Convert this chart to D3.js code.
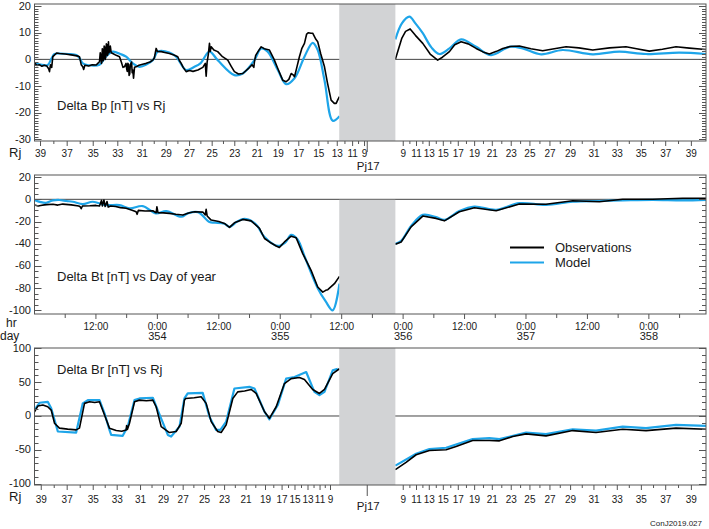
<!DOCTYPE html>
<html><head><meta charset="utf-8">
<script src="https://cdn.jsdelivr.net/npm/d3@7"></script>
<style>
html,body{margin:0;padding:0;background:#fff;}
svg{display:block;}
text{font-family:"Liberation Sans",Arial,Helvetica,sans-serif;fill:#1a1a1a;}
.nar{font-family:"Liberation Sans Narrow","Arial Narrow","Liberation Sans",sans-serif;}
</style></head><body>
<svg id="c" width="709" height="529"></svg>
<script>
// ---------------- DATA ----------------
const timeDomain = [353.0, 358.465];          // day of year (2018)
const gapStart = 355.48, gapEnd = 355.937;    // data gap around perijove
const pj17Time = 355.708;

const rjInLabels = [39,37,35,33,31,29,27,25,23,21,19,17,15,13,11,9];
const rjTopInTimes = [353.049,353.266,353.478,353.678,353.877,354.072,354.262,354.446,354.630,354.813,354.984,355.151,355.314,355.464,355.589,355.686];
const rjBotInTimes = [353.055,353.266,353.478,353.673,353.863,354.050,354.210,354.384,354.547,354.722,354.880,355.015,355.120,355.226,355.324,355.409];
const rjOutLabels = [9,11,13,15,17,19,21,23,25,27,29,31,33,35,37,39];
const rjOutTimes = [356.001,356.109,356.213,356.327,356.449,356.582,356.726,356.880,357.032,357.195,357.363,357.553,357.743,357.939,358.137,358.346];

const dayLabels = [354,355,356,357,358];
const hrLabels = ["0:00","12:00"];

const bpTicks = [20,10,0,-10,-20,-30];
const btTicks = [20,0,-20,-40,-60,-80,-100];
const brTicks = [100,50,0,-50,-100];

// Delta Bp observations
const bpObsT = [353.000,353.020,353.040,353.060,353.080,353.100,353.115,353.122,353.130,353.140,353.149,353.160,353.180,353.203,353.250,353.312,353.355,353.366,353.380,353.393,353.400,353.410,353.440,353.470,353.502,353.515,353.529,353.535,353.540,353.545,353.548,353.552,353.556,353.560,353.563,353.567,353.572,353.576,353.580,353.585,353.590,353.594,353.597,353.602,353.606,353.610,353.617,353.624,353.637,353.665,353.692,353.710,353.720,353.732,353.745,353.750,353.755,353.760,353.765,353.770,353.775,353.780,353.790,353.795,353.800,353.806,353.814,353.827,353.850,353.880,353.909,353.940,353.963,353.975,353.990,354.000,354.031,354.060,354.098,354.140,354.166,354.180,354.194,354.210,354.234,354.261,354.290,354.330,354.370,354.390,354.397,354.405,354.415,354.424,354.430,354.438,354.460,354.491,354.530,354.573,354.600,354.627,354.660,354.695,354.740,354.770,354.785,354.790,354.800,354.820,354.845,354.870,354.912,354.950,354.980,355.020,355.048,355.070,355.089,355.105,355.116,355.135,355.156,355.175,355.197,355.215,355.229,355.250,355.264,355.290,355.305,355.330,355.360,355.385,355.414,355.440,355.455,355.470,355.482,
  null,
  355.937,355.960,355.990,356.020,356.057,356.100,356.160,356.220,356.281,356.320,356.377,356.420,356.472,356.530,356.594,356.650,356.702,356.760,356.811,356.870,356.946,357.040,357.136,357.230,357.326,357.430,357.543,357.680,357.814,357.900,358.004,358.110,358.221,358.330,358.438,358.465];
const bpObsV = [-1.3,-2.3,-2.0,-2.6,-2.2,-2.5,-3.5,-4.6,-2.0,-3.0,1.0,1.5,2.4,2.2,2.0,1.6,1.2,1.0,-2.0,-2.8,-3.8,-2.2,-2.5,-2.0,-2.1,-1.5,-0.9,2.5,1.5,-1.5,-1.0,4.0,3.5,-0.5,0.5,5.0,4.5,0.0,1.0,5.8,5.5,1.5,2.0,6.6,2.5,3.0,5.0,2.5,2.2,1.5,1.0,-1.5,-3.0,-2.8,-1.5,-3.5,-4.5,-1.5,-2.0,-6.0,-5.5,-2.0,-1.0,-5.0,-4.0,-7.1,-3.0,-2.8,-2.2,-1.8,-1.5,-1.0,-0.3,0.5,4.1,3.0,2.9,2.6,2.2,1.5,1.0,-0.5,-1.5,-3.0,-4.6,-4.2,-4.5,-4.0,-3.0,-1.5,-6.3,-1.0,2.0,6.0,3.0,4.7,3.5,2.9,1.0,-0.3,-2.5,-4.6,-5.5,-5.3,-3.5,-2.0,-3.0,-0.9,1.5,3.0,4.7,4.0,3.5,0.0,-3.4,-7.8,-8.4,-7.5,-5.3,-5.8,-6.5,-3.0,1.0,4.0,6.0,9.5,10.0,9.8,9.8,7.5,6.6,2.0,-2.8,-9.0,-15.3,-16.5,-16.5,-15.0,-14.0,
  null,
  0.0,3.5,8.0,10.5,11.4,9.0,6.0,2.0,-0.3,0.8,2.9,5.5,6.6,5.8,4.1,2.8,2.0,3.0,4.1,4.8,5.0,4.0,3.2,4.0,4.7,4.3,3.5,4.3,4.7,4.0,3.1,3.8,4.7,4.2,3.8,3.7];

// Delta Bp model
const bpModT = [353.000,353.050,353.108,353.140,353.163,353.203,353.280,353.340,353.366,353.393,353.440,353.529,353.580,353.637,353.700,353.746,353.800,353.854,353.963,354.003,354.098,354.153,354.234,354.302,354.350,354.424,354.491,354.627,354.695,354.790,354.845,354.898,354.980,355.048,355.116,355.197,355.264,355.305,355.360,355.427,355.482,
  null,
  355.937,355.990,356.051,356.100,356.160,356.230,356.295,356.377,356.472,356.594,356.716,356.865,356.973,357.123,357.299,357.543,357.760,357.977,358.248,358.465];
const bpModV = [-1.3,-2.0,-2.1,0.5,2.0,2.2,2.0,1.6,0.5,-1.5,-2.2,-2.0,1.0,2.9,2.0,1.0,-1.5,-2.8,-0.3,2.9,2.6,1.0,-4.0,-2.8,-1.5,2.9,-0.3,-5.9,-5.3,-0.3,4.1,2.9,-4.0,-9.3,-7.1,1.0,6.2,3.5,-7.8,-23.0,-21.3,
  null,
  7.5,13.5,16.0,13.5,9.8,4.5,2.0,4.1,7.5,4.7,1.6,4.7,4.1,1.9,3.5,1.9,2.9,2.0,2.5,2.0];

// Delta Bt observations
const btObsT = [353.000,353.030,353.050,353.080,353.100,353.150,353.190,353.230,353.300,353.360,353.372,353.380,353.390,353.450,353.500,353.529,353.545,353.552,353.565,353.575,353.590,353.600,353.620,353.660,353.700,353.746,353.800,353.827,353.835,353.845,353.900,353.963,353.990,353.996,354.005,354.050,354.098,354.150,354.207,354.261,354.302,354.370,354.390,354.397,354.405,354.438,354.500,354.546,354.587,354.627,354.695,354.763,354.831,354.872,354.912,354.967,354.993,355.034,355.089,355.130,355.183,355.251,355.305,355.346,355.370,355.387,355.441,355.482,
  null,
  355.937,355.984,356.065,356.160,356.268,356.336,356.458,356.580,356.757,356.946,357.163,357.380,357.597,357.787,358.031,358.275,358.465];
const btObsV = [-5.2,-6.0,-5.5,-5.0,-4.8,-4.5,-5.2,-4.3,-5.0,-6.0,-6.7,-8.5,-6.0,-5.8,-5.5,-6.0,-1.0,-6.0,-0.6,-6.5,-2.0,-7.0,-6.0,-6.5,-7.5,-8.1,-10.0,-11.2,-13.5,-10.0,-10.5,-10.3,-12.1,-6.7,-12.0,-12.2,-12.7,-13.5,-14.2,-12.1,-11.2,-11.5,-14.0,-9.0,-15.0,-18.7,-20.0,-21.7,-25.3,-21.2,-18.1,-19.4,-26.2,-35.3,-38.4,-42.0,-43.4,-38.4,-33.2,-34.7,-48.9,-64.0,-79.0,-83.6,-82.0,-81.4,-76.0,-69.4,
  null,
  -40.5,-38.4,-24.8,-15.1,-17.2,-19.4,-11.2,-7.6,-10.3,-4.3,-4.5,-1.3,-2.2,0.0,0.0,0.9,0.9];

// Delta Bt model
const btModT = [353.000,353.050,353.095,353.150,353.203,353.260,353.312,353.393,353.474,353.583,353.692,353.773,353.881,353.990,354.072,354.194,354.247,354.330,354.424,354.470,354.546,354.587,354.650,354.709,354.780,354.814,354.872,354.980,355.040,355.089,355.140,355.200,355.305,355.370,355.427,355.482,
  null,
  355.937,355.984,356.065,356.160,356.268,356.336,356.458,356.580,356.757,356.946,357.163,357.380,357.597,357.787,358.031,358.275,358.465];
const btModV = [-0.6,-2.5,-3.1,-1.0,-0.6,-1.5,-2.2,-4.3,-2.2,-5.2,-5.2,-8.1,-6.1,-12.7,-10.6,-15.7,-12.7,-11.5,-20.5,-21.0,-22.0,-24.8,-20.0,-17.7,-20.5,-24.0,-34.0,-42.0,-39.0,-32.0,-36.0,-52.0,-80.0,-92.0,-100.0,-76.0,
  null,
  -40.0,-37.5,-24.0,-14.0,-16.0,-18.5,-10.5,-6.5,-9.5,-3.5,-5.0,-2.2,-1.5,-1.0,-0.5,-1.0,-0.5];

// Delta Br observations
const brObsT = [353.000,353.027,353.068,353.108,353.136,353.163,353.203,353.270,353.339,353.366,353.407,353.448,353.490,353.529,353.570,353.610,353.665,353.710,353.746,353.750,353.756,353.773,353.814,353.854,353.910,353.963,353.990,354.031,354.098,354.153,354.194,354.220,354.230,354.300,354.356,354.397,354.438,354.491,354.519,354.560,354.614,354.654,354.710,354.763,354.804,354.872,354.912,354.967,355.034,355.089,355.156,355.197,355.264,355.319,355.360,355.427,355.482,
  null,
  355.937,356.024,356.106,356.214,356.350,356.431,356.566,356.702,356.784,356.892,357.001,357.163,357.380,357.570,357.787,357.977,358.221,358.465];
const brObsV = [6.3,14.7,16.2,13.7,8.8,-10.7,-18.0,-19.5,-20.6,-18.0,18.7,21.0,20.0,21.0,1.5,-18.0,-21.6,-22.5,-20.6,-14.0,-20.0,-10.7,21.0,23.5,22.5,23.5,13.7,-15.7,-24.5,-23.0,-10.7,23.5,26.0,27.0,28.4,18.7,-8.3,-23.0,-24.5,-13.2,26.0,35.7,37.0,39.3,33.4,6.3,-3.4,13.7,48.0,55.4,56.9,54.0,39.3,33.4,39.3,62.8,70.0,
  null,
  -79.4,-68.7,-57.4,-51.0,-50.0,-45.1,-36.3,-36.3,-36.8,-30.4,-26.5,-29.4,-21.6,-24.5,-19.6,-21.6,-18.0,-19.6];

// Delta Br model
const brModT = [353.000,353.041,353.108,353.136,353.190,353.339,353.393,353.434,353.529,353.570,353.610,353.624,353.718,353.759,353.814,353.854,353.963,354.003,354.085,354.112,354.180,354.220,354.247,354.369,354.424,354.478,354.513,354.560,354.627,354.749,354.790,354.872,354.912,354.980,355.048,355.116,355.211,355.278,355.319,355.360,355.427,355.468,
  null,
  355.937,356.106,356.214,356.350,356.566,356.702,356.784,357.001,357.163,357.380,357.570,357.787,357.977,358.221,358.465];
const brModV = [8.8,19.6,21.0,11.3,-23.0,-24.5,18.7,23.5,23.5,4.0,-20.6,-28.0,-29.4,-15.7,23.5,26.0,27.0,8.8,-28.0,-30.4,-15.7,26.0,33.4,34.3,-1.0,-20.6,-20.6,-8.3,40.7,43.1,40.7,6.3,-4.9,16.2,55.4,57.8,65.1,35.7,30.9,35.7,67.6,70.0,
  null,
  -73.5,-55.9,-49.0,-47.0,-34.3,-32.8,-34.3,-24.5,-26.9,-19.6,-21.6,-15.7,-18.0,-13.2,-14.7];

// ---------------- DRAWING ----------------
const svg = d3.select('#c');
const BLUE = '#1ea5e9', GRAY = '#d2d3d5', AX = '#555';
const x = d3.scaleLinear().domain(timeDomain).range([34.5, 706]);
const L = x.range()[0], R = x.range()[1];

const panels = [
  {key:'bp', top:4, bottom:141, dom:[-30.6,20.75], ticks:bpTicks, minor:1, major:10,
   obsT:bpObsT, obsV:bpObsV, modT:bpModT, modV:bpModV, label:'Delta Bp [nT] vs Rj', labY:110,
   grayFull:true, modCurve:d3.curveCatmullRom, obsCurve:d3.curveLinear},
  {key:'bt', top:175, bottom:314, dom:[-103.3,21.9], ticks:btTicks, minor:5, major:20,
   obsT:btObsT, obsV:btObsV, modT:btModT, modV:btModV, label:'Delta Bt [nT] vs Day of year', labY:281,
   grayFull:false, modCurve:d3.curveCatmullRom, obsCurve:d3.curveLinear},
  {key:'br', top:348, bottom:485, dom:[-102.2,100.7], ticks:brTicks, minor:10, major:50,
   obsT:brObsT, obsV:brObsV, modT:brModT, modV:brModV, label:'Delta Br [nT] vs Rj', labY:374,
   grayFull:true, modCurve:d3.curveLinear, obsCurve:d3.curveLinear}
];

panels.forEach((p,i) => {
  const y = d3.scaleLinear().domain(p.dom).range([p.bottom, p.top]);
  const g = svg.append('g');
  const cid = 'clip'+i;
  svg.append('clipPath').attr('id',cid).append('rect')
    .attr('x',L).attr('y',p.top).attr('width',R-L).attr('height',p.bottom-p.top);

  // zero line
  g.append('line').attr('x1',L).attr('x2',R).attr('y1',y(0)).attr('y2',y(0))
    .attr('stroke','#444').attr('stroke-width',1);

  const mk = (T,V) => T.map((t,k)=>({t, v:V[k]}));
  const lineGen = c => d3.line().defined(d=>d.t!=null && d.v!=null)
      .x(d=>x(d.t)).y(d=>y(d.v)).curve(c);

  const cg = g.append('g').attr('clip-path',`url(#${cid})`);
  cg.append('path').datum(mk(p.modT,p.modV)).attr('d',lineGen(p.modCurve))
    .attr('fill','none').attr('stroke',BLUE).attr('stroke-width',2.2).attr('stroke-linejoin','round');
  cg.append('path').datum(mk(p.obsT,p.obsV)).attr('d',lineGen(p.obsCurve))
    .attr('fill','none').attr('stroke','#000').attr('stroke-width',1.6).attr('stroke-linejoin','round');

  // gray data gap
  const gy = p.grayFull ? p.top : y(0);
  g.append('rect').attr('x',x(gapStart)).attr('y',gy+(p.grayFull?0:0.5))
    .attr('width',x(gapEnd)-x(gapStart)).attr('height',p.bottom-gy-(p.grayFull?0:0.5))
    .attr('fill',GRAY);

  // frame
  g.append('rect').attr('x',L).attr('y',p.top).attr('width',R-L).attr('height',p.bottom-p.top)
    .attr('fill','none').attr('stroke',AX).attr('stroke-width',1);

  // y ticks (inward both sides)
  const minors = d3.range(Math.ceil(p.dom[0]/p.minor)*p.minor, p.dom[1]+1e-9, p.minor);
  minors.forEach(v => {
    const isMaj = Math.abs(v % p.major) < 1e-9;
    const len = isMaj ? 7 : 4;
    const yy = Math.round(y(v))+0.5;
    g.append('line').attr('x1',L).attr('x2',L+len).attr('y1',yy).attr('y2',yy).attr('stroke',AX);
    g.append('line').attr('x1',R).attr('x2',R-len).attr('y1',yy).attr('y2',yy).attr('stroke',AX);
  });
  p.ticks.forEach(v => {
    g.append('text').attr('x',31).attr('y',y(v)+3.5).attr('text-anchor','end')
      .attr('font-size',11).text(v);
  });

  // panel label
  g.append('text').attr('x',57).attr('y',p.labY).attr('font-size',13).text(p.label);

  // x axis
  if (p.key === 'bt') {
    const hrT = d3.range(353.25, timeDomain[1], 0.25);
    hrT.forEach(t => {
      const frac = Math.round((t - Math.floor(t))*4);
      const lab = frac % 2 === 0;
      g.append('line').attr('x1',x(t)).attr('x2',x(t)).attr('y1',p.bottom).attr('y2',p.bottom+(lab?5:4))
        .attr('stroke',AX);
      if (lab) {
        g.append('text').attr('class','nar').attr('x',x(t)).attr('y',329.5).attr('text-anchor','middle')
          .attr('font-size',10).text(frac===0 ? hrLabels[0] : hrLabels[1]);
      }
    });
    dayLabels.forEach(d => {
      g.append('text').attr('x',x(d)).attr('y',340).attr('text-anchor','middle')
        .attr('font-size',11).text(d);
    });
    g.append('text').attr('x',6).attr('y',327).attr('font-size',12).text('hr');
    g.append('text').attr('x',0).attr('y',340).attr('font-size',12).text('day');
  } else {
    const inTimes = p.key==='bp' ? rjTopInTimes : rjBotInTimes;
    const base = p.bottom;
    const labY = p.key==='bp' ? 157 : 503;
    const drawSet = (times, labels) => {
      times.forEach((t,k) => {
        g.append('line').attr('x1',x(t)).attr('x2',x(t)).attr('y1',base).attr('y2',base+5).attr('stroke',AX);
        g.append('text').attr('class','nar').attr('x',x(t)).attr('y',labY).attr('text-anchor','middle')
          .attr('font-size',10).text(labels[k]);
        if (k < times.length-1) {
          const tm = (t + times[k+1])/2;
          g.append('line').attr('x1',x(tm)).attr('x2',x(tm)).attr('y1',base).attr('y2',base+3).attr('stroke',AX);
        }
      });
    };
    drawSet(inTimes, rjInLabels);
    drawSet(rjOutTimes, rjOutLabels);
    // Pj17 marker
    g.append('line').attr('x1',x(pj17Time)).attr('x2',x(pj17Time)).attr('y1',base).attr('y2',base+11).attr('stroke',AX);
    g.append('text').attr('x',x(pj17Time)+1).attr('y',p.key==='bp'?169.5:510).attr('text-anchor','middle')
      .attr('font-size',11.5).text('Pj17');
    g.append('text').attr('x',9).attr('y',p.key==='bp'?156.5:501).attr('font-size',13).text('Rj');
  }

  // legend in Bt panel
  if (p.key === 'bt') {
    const lg = g.append('g');
    lg.append('line').attr('x1',510).attr('x2',544).attr('y1',247.5).attr('y2',247.5).attr('stroke','#000').attr('stroke-width',1.8);
    lg.append('text').attr('x',555).attr('y',252).attr('font-size',13).text('Observations');
    lg.append('line').attr('x1',510).attr('x2',544).attr('y1',262.5).attr('y2',262.5).attr('stroke',BLUE).attr('stroke-width',2.2);
    lg.append('text').attr('x',555).attr('y',267).attr('font-size',13).text('Model');
  }
});

svg.append('text').attr('x',702).attr('y',526).attr('text-anchor','end').attr('font-size',8).text('ConJ2019.027');
</script>
</body></html>
